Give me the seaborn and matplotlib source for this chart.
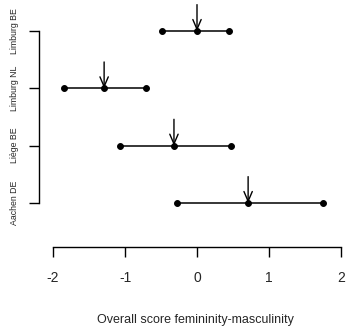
"""
Dot-and-interval chart of overall femininity-masculinity scores per region.
"""

import matplotlib
matplotlib.use("Agg")
import matplotlib.pyplot as plt
import seaborn as sns
import pandas as pd

# data
sites = ["Aachen DE", "Liège BE", "Limburg NL", "Limburg BE"]
lower = [-0.28, -1.07, -1.85, -0.49]
center = [0.71, -0.32, -1.29, 0.0]
upper = [1.75, 0.47, -0.71, 0.44]
x_ticks = [-2, -1, 0, 1, 2]

positions = list(range(1, len(sites) + 1))
rows = []
for pos, site, lo, mid, hi in zip(positions, sites, lower, center, upper):
    for v in (lo, mid, hi):
        rows.append({"site": site, "pos": pos, "score": v})
df = pd.DataFrame(rows)

sns.set_style("white")
plt.rcParams["font.family"] = ["Liberation Sans", "DejaVu Sans"]

fig = plt.figure(figsize=(3.46, 3.26), dpi=100)
W, H = 346, 326
# axes in pixel coords: left 45, right 346, top 0, bottom 230
ax = fig.add_axes([45 / W, (H - 230) / H, (346 - 45) / W, 230 / H])

sns.lineplot(data=df, x="score", y="pos", units="site", estimator=None,
             sort=False, color="black", linewidth=1.1, marker="o",
             markersize=4.2, markeredgecolor="black", legend=False, ax=ax)

for pos, mid in zip(positions, center):
    ax.annotate("", xy=(mid, pos), xytext=(mid, pos + 0.46),
                arrowprops=dict(arrowstyle="->,head_length=0.7,head_width=0.3",
                                color="black", lw=1.0, shrinkA=0, shrinkB=0))

ax.set_xlim(-2 - 8 / 72, 2 + 5 / 72)
ax.set_ylim(1 - 27 / 57.33, 4 + 31 / 57.33)

for s in ["top", "right"]:
    ax.spines[s].set_visible(False)
ax.spines["left"].set_position(("outward", 4))
ax.spines["bottom"].set_position(("outward", 12))
ax.spines["left"].set_bounds(1, 4)
ax.spines["bottom"].set_bounds(-2, 2)
for s in ["left", "bottom"]:
    ax.spines[s].set_color("black")
    ax.spines[s].set_linewidth(1.0)

ax.tick_params(axis="both", direction="out", length=7.5, width=1.0,
               color="black", left=True, bottom=True)
ax.tick_params(axis="x", pad=10, labelsize=10)
ax.tick_params(axis="y", pad=7, labelsize=6.3)

ax.set_xticks(x_ticks)
ax.set_xticklabels([str(t) for t in x_ticks])
ax.set_yticks(positions)
ax.set_yticklabels(sites)
for lab in ax.get_yticklabels():
    lab.set_rotation(90)
    lab.set_rotation_mode("anchor")
    lab.set_ha("center")
    lab.set_va("bottom")

ax.set_xlabel("Overall score femininity-masculinity", fontsize=9, labelpad=21)
ax.set_ylabel("")

fig.savefig("out.png", dpi=100)
